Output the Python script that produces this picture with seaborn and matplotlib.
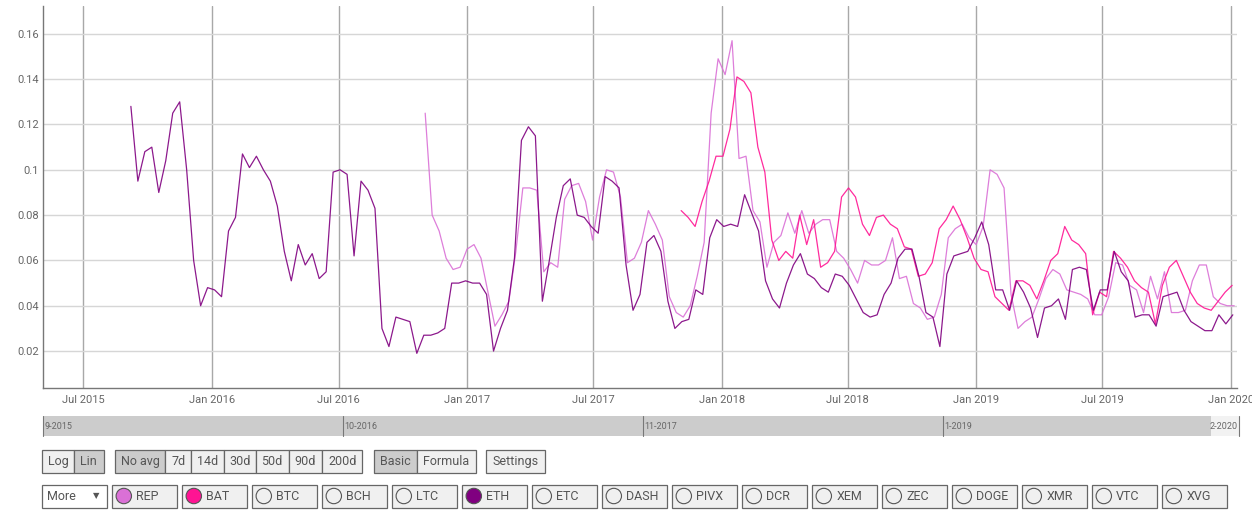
import numpy as np
import pandas as pd
import seaborn as sns
import matplotlib
matplotlib.use('Agg')
import matplotlib.pyplot as plt
import matplotlib.dates as mdates
from matplotlib.patches import Rectangle, Circle
from matplotlib.ticker import FuncFormatter

# ---------------------------- Data (10-day steps) ----------------------------
eth_start = '2015-09-07'
eth = [0.128, 0.095, 0.108, 0.110, 0.090, 0.104, 0.125, 0.130, 0.100, 0.060,
       0.040, 0.048, 0.047, 0.044, 0.073, 0.079, 0.107, 0.101, 0.106, 0.100,
       0.095, 0.084, 0.064, 0.051, 0.067, 0.058, 0.063, 0.052, 0.055, 0.099,
       0.100, 0.098,
       0.062, 0.095, 0.091, 0.083, 0.030, 0.022, 0.035, 0.034, 0.033, 0.019,
       0.027, 0.027, 0.028, 0.030, 0.050, 0.050, 0.051, 0.050, 0.050, 0.045,
       0.020, 0.030, 0.038, 0.061, 0.113, 0.119, 0.115, 0.042, 0.060, 0.079,
       0.093,
       0.096, 0.080, 0.079, 0.075, 0.072, 0.097, 0.095, 0.092, 0.058, 0.038,
       0.045, 0.068, 0.071, 0.064, 0.042, 0.030, 0.033, 0.034, 0.047, 0.045,
       0.070, 0.078, 0.075, 0.076, 0.075, 0.089, 0.081, 0.073, 0.051, 0.043,
       0.039, 0.050,
       0.058, 0.063, 0.054, 0.052, 0.048, 0.046, 0.054, 0.053, 0.049, 0.043,
       0.037, 0.035, 0.036, 0.045, 0.050, 0.061, 0.065, 0.065, 0.053, 0.037,
       0.035, 0.022, 0.054, 0.062, 0.063, 0.064, 0.070, 0.077, 0.067, 0.047,
       0.047, 0.038,
       0.051, 0.046, 0.039, 0.026, 0.039, 0.040, 0.043, 0.034, 0.056, 0.057,
       0.056, 0.038, 0.047, 0.047, 0.064, 0.055, 0.051, 0.035, 0.036, 0.036,
       0.031, 0.044, 0.045, 0.046, 0.038, 0.033, 0.031, 0.029, 0.029, 0.036,
       0.032, 0.036]

rep_start = '2016-11-02'
rep = [0.125, 0.080, 0.073, 0.061, 0.056, 0.057, 0.065, 0.067, 0.061, 0.046,
       0.031, 0.036, 0.042, 0.064, 0.092, 0.092, 0.091, 0.055, 0.059, 0.057,
       0.087,
       0.093, 0.094, 0.086, 0.069, 0.088, 0.100, 0.099, 0.088, 0.059, 0.061,
       0.068, 0.082, 0.076, 0.069, 0.044, 0.037, 0.035, 0.040, 0.053, 0.068,
       0.125, 0.149, 0.142, 0.157, 0.105, 0.106, 0.082, 0.077, 0.057, 0.068,
       0.071, 0.081,
       0.072, 0.082, 0.072, 0.076, 0.078, 0.078, 0.064, 0.061, 0.056, 0.050,
       0.060, 0.058, 0.058, 0.060, 0.070, 0.052, 0.053, 0.041, 0.039, 0.034,
       0.035, 0.045, 0.070, 0.074, 0.076, 0.070, 0.067, 0.075, 0.100, 0.098,
       0.092,
       0.045, 0.030, 0.033, 0.035, 0.043, 0.052, 0.056, 0.054, 0.047, 0.046,
       0.045, 0.043, 0.036, 0.036, 0.044, 0.059, 0.058, 0.049, 0.047, 0.037,
       0.053, 0.043, 0.055, 0.037, 0.037, 0.038, 0.051, 0.058, 0.058, 0.044,
       0.041, 0.040, 0.040]

bat_start = '2017-11-04'
bat = [0.082, 0.079, 0.075, 0.086, 0.095, 0.106, 0.106, 0.118, 0.141, 0.139,
       0.134, 0.110, 0.099, 0.069, 0.060, 0.064,
       0.061, 0.080, 0.067, 0.078, 0.057, 0.059, 0.064, 0.088, 0.092, 0.088,
       0.076, 0.071, 0.079, 0.080, 0.076, 0.074, 0.066, 0.065, 0.053, 0.054,
       0.059, 0.074, 0.078, 0.084, 0.078, 0.070, 0.061, 0.056, 0.055, 0.044,
       0.041,
       0.038, 0.051, 0.051, 0.049, 0.043, 0.051, 0.060, 0.063, 0.075, 0.069,
       0.067, 0.063, 0.036, 0.046, 0.044, 0.064, 0.061, 0.057, 0.051, 0.048,
       0.046, 0.032, 0.049, 0.057, 0.060, 0.053, 0.046, 0.041, 0.039, 0.038,
       0.042, 0.046, 0.049]

shown_coins = ['REP', 'BAT', 'ETH']
coin_colors = {'REP': '#DA70D6', 'BAT': '#FF1493', 'ETH': '#800080'}
all_coins = ['REP', 'BAT', 'BTC', 'BCH', 'LTC', 'ETH', 'ETC', 'DASH', 'PIVX',
             'DCR', 'XEM', 'ZEC', 'DOGE', 'XMR', 'VTC', 'XVG']
nav_labels = ['9-2015', '10-2016', '11-2017', '1-2019']
nav_end_label = '2-2020'
button_groups = [
    (['Log', 'Lin'], 'Lin'),
    (['No avg', '7d', '14d', '30d', '50d', '90d', '200d'], 'No avg'),
    (['Basic', 'Formula'], 'Basic'),
    (['Settings'], None),
]

# ---------------------------- Data frame ----------------------------
frames = []
for coin, start, vals in [('REP', rep_start, rep), ('BAT', bat_start, bat), ('ETH', eth_start, eth)]:
    frames.append(pd.DataFrame({
        'date': pd.date_range(start, periods=len(vals), freq='10D'),
        'value': vals,
        'coin': coin,
    }))
df = pd.concat(frames, ignore_index=True)

# ---------------------------- Figure ----------------------------
sns.set_theme(style='white')
plt.rcParams['font.family'] = ['Roboto', 'DejaVu Sans']

W, H = 1252, 513
fig = plt.figure(figsize=(W / 100, H / 100), dpi=100)
fig.patch.set_facecolor('white')

ax = fig.add_axes([43 / W, 1 - 388 / H, (1237 - 43) / W, (388 - 6) / H])
sns.lineplot(data=df, x='date', y='value', hue='coin', hue_order=shown_coins,
             palette=coin_colors, estimator=None, linewidth=0.9, alpha=0.9,
             legend=False, ax=ax)

ax.set_xlim(pd.Timestamp('2015-05-04'), pd.Timestamp('2020-01-10'))
ax.set_ylim(0.0037, 0.1723)
ax.set_xlabel('')
ax.set_ylabel('')
ax.set_yticks(np.arange(0.02, 0.161, 0.02))
ax.yaxis.set_major_formatter(FuncFormatter(lambda v, p: f'{v:g}'))
ax.xaxis.set_major_locator(mdates.MonthLocator(bymonth=[1, 7]))
ax.xaxis.set_major_formatter(mdates.DateFormatter('%b %Y'))
ax.tick_params(axis='both', length=0, labelsize=8, colors='#666666')
ax.tick_params(axis='y', pad=3)
ax.tick_params(axis='x', pad=5)

ax.set_axisbelow(True)
ax.yaxis.grid(True, color='#d6d6d6', linewidth=1.0)
ax.xaxis.grid(True, color='#a8a8a8', linewidth=1.0)
for side in ['top', 'right']:
    ax.spines[side].set_visible(False)
for side in ['left', 'bottom']:
    ax.spines[side].set_color('#777777')
    ax.spines[side].set_linewidth(1.0)

# ---------------------------- UI overlay (pixel coords) ----------------------------
ui = fig.add_axes([0, 0, 1, 1])
ui.set_xlim(0, W)
ui.set_ylim(H, 0)
ui.axis('off')

# navigator strip
ui.add_patch(Rectangle((43, 416), 1168, 20, facecolor='#cccccc', edgecolor='none'))
ui.add_patch(Rectangle((1211, 416), 28, 20, facecolor='#f2f2f2', edgecolor='none'))
for i, lab in enumerate(nav_labels):
    x0 = 43 + 300 * i
    ui.plot([x0, x0], [416, 436], color='#777777', lw=0.8)
    ui.text(x0 + 1.5, 426.5, lab, fontsize=6.5, color='#666666', va='center', ha='left')
ui.plot([1239, 1239], [416, 436], color='#777777', lw=0.8)
ui.text(1238, 426.5, nav_end_label, fontsize=6.5, color='#666666', va='center', ha='right')

# button rows
group_starts = [42, 114.7, 374, 486]
group_widths = [[32, 29.5], [50.5, 26, 33, 31.5, 33, 33.5, 40], [42.5, 59], [58.5]]
for (labels, selected), gx, widths in zip(button_groups, group_starts, group_widths):
    x = gx
    for lab, w in zip(labels, widths):
        fc = '#cccccc' if lab == selected else '#f0f0f0'
        ui.add_patch(Rectangle((x, 449.5), w, 23, facecolor=fc, edgecolor='#666666', lw=0.9))
        ui.text(x + w / 2, 461.5, lab, fontsize=9, color='#555555', ha='center', va='center')
        x += w

ui.add_patch(Rectangle((42, 484.5), 64.5, 23, facecolor='white', edgecolor='#666666', lw=0.9))
ui.text(47, 496.5, 'More', fontsize=9, color='#555555', ha='left', va='center')
ui.text(96, 495.5, '\u25bc', fontsize=6, color='#555555', ha='center', va='center',
        family=['DejaVu Sans'])

for i, coin in enumerate(all_coins):
    bx = 112.3 + 70 * i
    ui.add_patch(Rectangle((bx, 484.5), 64.5, 23, facecolor='#f0f0f0', edgecolor='#666666', lw=0.9))
    fc = coin_colors.get(coin, 'none')
    ui.add_patch(Circle((bx + 11.5, 496), 7.7, facecolor=fc, edgecolor='#555555', lw=0.8))
    ui.text(bx + 24, 496, coin, fontsize=9, color='#555555', ha='left', va='center')

fig.savefig('out.png', dpi=100)
